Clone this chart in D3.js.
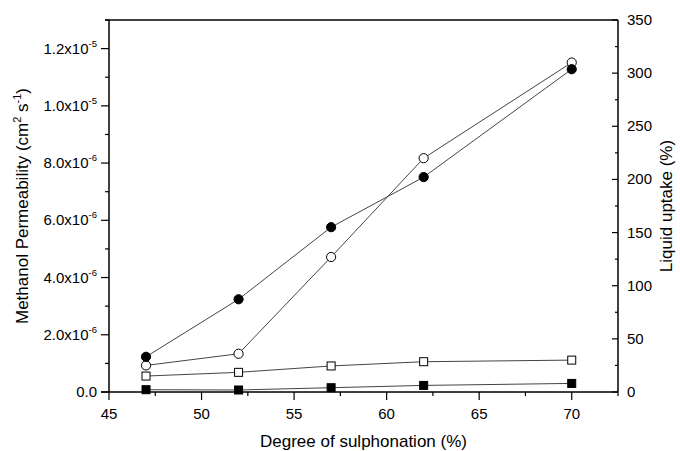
<!DOCTYPE html>
<html lang="en">
<head>
  <meta charset="UTF-8">
  <title>Methanol permeability and liquid uptake vs degree of sulphonation</title>
  <script src="https://cdnjs.cloudflare.com/ajax/libs/d3/7.8.5/d3.min.js"></script>
  <style>
    body {
      margin: 0;
      padding: 0;
      background: #fff;
    }
    svg {
      display: block;
      font-family: "Liberation Sans", Arial, sans-serif;
    }
  </style>
</head>
<body>

<svg id="chart" width="680" height="451"></svg>

<script>
  // Data
  const sulphonation = [47, 52, 57, 62, 70];
  // methanol permeability, cm2 s-1 (left axis)
  const permFilledCircle = [1.23e-6, 3.24e-6, 5.76e-6, 7.51e-6, 1.128e-5];
  const permFilledSquare = [0.08e-6, 0.07e-6, 0.15e-6, 0.23e-6, 0.30e-6];
  // liquid uptake, % (right axis)
  const uptakeOpenCircle = [25, 36, 127, 220, 310];
  const uptakeOpenSquare = [15, 18.5, 24.5, 28.5, 30];

  const xTicks = [45, 50, 55, 60, 65, 70];
  const leftTicks = [0, 2e-6, 4e-6, 6e-6, 8e-6, 1e-5, 1.2e-5];
  const leftTickLabels = [["0.0", ""], ["2.0x10", "-6"], ["4.0x10", "-6"], ["6.0x10", "-6"],
                          ["8.0x10", "-6"], ["1.0x10", "-5"], ["1.2x10", "-5"]];
  const rightTicks = [0, 50, 100, 150, 200, 250, 300, 350];

  const svg = d3.select("#chart"),
        margin = { left: 109, right: 62, top: 20, bottom: 59 },
        width = +svg.attr("width"),
        height = +svg.attr("height"),
        x0 = margin.left,
        x1 = width - margin.right,
        y0 = height - margin.bottom,
        y1 = margin.top;

  const x = d3.scaleLinear().domain([45, 72.5]).range([x0, x1]);
  const yLeft = d3.scaleLinear().domain([0, 1.3e-5]).range([y0, y1]);
  const yRight = d3.scaleLinear().domain([0, 350]).range([y0, y1]);

  const lineColor = "#444";

  // frame
  svg.append("line")
    .attr("x1", x0 - 4).attr("x2", x1).attr("y1", y1).attr("y2", y1)
    .attr("stroke", "#000").attr("stroke-width", 1.5);

  // bottom axis
  const gx = svg.append("g").attr("transform", `translate(0,${y0})`);
  gx.append("line").attr("x1", x0 - 8).attr("x2", x1).attr("stroke", "#000").attr("stroke-width", 1.5);
  d3.range(45, 72.6, 2.5).forEach(v => {
    const major = v % 5 === 0;
    gx.append("line")
      .attr("x1", x(v)).attr("x2", x(v))
      .attr("y1", 0).attr("y2", major ? 8 : 4)
      .attr("stroke", "#000").attr("stroke-width", 1.2);
  });
  gx.selectAll("text.tick")
    .data(xTicks)
    .join("text")
    .attr("class", "tick")
    .attr("x", d => x(d))
    .attr("y", 27)
    .attr("text-anchor", "middle")
    .attr("font-size", 15)
    .text(d => d);

  // left axis
  const gl = svg.append("g").attr("transform", `translate(${x0},0)`);
  gl.append("line").attr("y1", y0).attr("y2", y1).attr("stroke", "#000").attr("stroke-width", 1.5);
  d3.range(0, 14).forEach(i => {
    const v = i * 1e-6;
    const major = i % 2 === 0;
    gl.append("line")
      .attr("x1", 0).attr("x2", major ? -8 : -4)
      .attr("y1", yLeft(v)).attr("y2", yLeft(v))
      .attr("stroke", "#000").attr("stroke-width", 1.2);
  });
  leftTicks.forEach((v, i) => {
    const t = gl.append("text")
      .attr("x", -12)
      .attr("y", yLeft(v) + 5)
      .attr("text-anchor", "end")
      .attr("font-size", 15);
    t.append("tspan").text(leftTickLabels[i][0]);
    if (leftTickLabels[i][1]) {
      t.append("tspan").attr("dy", -7).attr("font-size", 9.5).text(leftTickLabels[i][1]);
    }
  });

  // right axis
  const gr = svg.append("g").attr("transform", `translate(${x1},0)`);
  gr.append("line").attr("y1", y0).attr("y2", y1).attr("stroke", "#000").attr("stroke-width", 1.5);
  d3.range(0, 351, 25).forEach(v => {
    const major = v % 50 === 0;
    gr.append("line")
      .attr("x1", 0).attr("x2", major ? -6 : -3)
      .attr("y1", yRight(v)).attr("y2", yRight(v))
      .attr("stroke", "#000").attr("stroke-width", 1.2);
  });
  gr.selectAll("text.tick")
    .data(rightTicks)
    .join("text")
    .attr("class", "tick")
    .attr("x", 9)
    .attr("y", d => yRight(d) + 5)
    .attr("font-size", 15)
    .text(d => d);

  // axis titles
  svg.append("text")
    .attr("x", (x0 + x1) / 2)
    .attr("y", 447)
    .attr("text-anchor", "middle")
    .attr("font-size", 17)
    .text("Degree of sulphonation (%)");

  const lt = svg.append("text")
    .attr("transform", `translate(28,${(y0 + y1) / 2}) rotate(-90)`)
    .attr("text-anchor", "middle")
    .attr("font-size", 17);
  lt.append("tspan").text("Methanol Permeability (cm");
  lt.append("tspan").attr("dy", -7).attr("font-size", 11).text("2");
  lt.append("tspan").attr("dy", 7).text(" s");
  lt.append("tspan").attr("dy", -7).attr("font-size", 11).text("-1");
  lt.append("tspan").attr("dy", 7).text(")");

  svg.append("text")
    .attr("transform", `translate(672,${(y0 + y1) / 2}) rotate(-90)`)
    .attr("text-anchor", "middle")
    .attr("font-size", 17)
    .text("Liquid uptake (%)");

  // series
  const series = [
    { values: uptakeOpenCircle, y: yRight, shape: "circle", fill: "#fff" },
    { values: permFilledCircle, y: yLeft, shape: "circle", fill: "#000" },
    { values: uptakeOpenSquare, y: yRight, shape: "square", fill: "#fff" },
    { values: permFilledSquare, y: yLeft, shape: "square", fill: "#000" }
  ];

  series.forEach(s => {
    const pts = sulphonation.map((d, i) => [x(d), s.y(s.values[i])]);
    svg.append("path")
      .attr("d", d3.line()(pts))
      .attr("fill", "none")
      .attr("stroke", lineColor)
      .attr("stroke-width", 1);
    pts.forEach(p => {
      if (s.shape === "circle") {
        svg.append("circle")
          .attr("cx", p[0]).attr("cy", p[1]).attr("r", 4.6)
          .attr("fill", s.fill).attr("stroke", "#000").attr("stroke-width", 1);
      } else {
        svg.append("rect")
          .attr("x", p[0] - 4).attr("y", p[1] - 4)
          .attr("width", 8).attr("height", 8)
          .attr("fill", s.fill).attr("stroke", "#000").attr("stroke-width", 1);
      }
    });
  });
</script>

</body>
</html>
